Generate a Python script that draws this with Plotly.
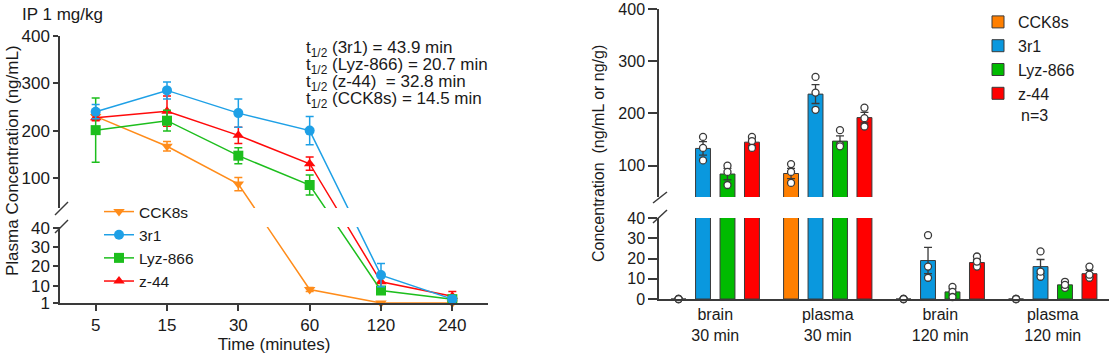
import plotly.graph_objects as go

W, H = 1112, 355
FONT = "Liberation Sans, Arial, sans-serif"
INK = "#1a1a1a"
AX = "#3a3a3a"

# ---------------- Left panel: plasma PK after IP 1 mg/kg ----------------
times = ["5", "15", "30", "60", "120", "240"]
cck8s_pk = [230, 167, 87, 8, 1, 1]
cck8s_pk_sem = [8, 10, 14, 1, 0, 0]
r1_pk = [240, 285, 237, 200, 15.5, 3]
r1_pk_sem = [15, 18, 30, 30, 6, 1]
lyz_pk = [201, 221, 147, 85, 7.5, 3]
lyz_pk_sem = [68, 22, 17, 21, 1.5, 0.5]
z44_pk = [227, 241, 190, 130, 12, 4.5]
z44_pk_sem = [6, 32, 17, 14, 3, 2.5]
left_yticks = [1, 10, 20, 30, 40, 100, 200, 300, 400]
half_life_labels = ["(3r1) = 43.9 min", "(Lyz-866) = 20.7 min",
                    "(z-44)  = 32.8 min", "(CCK8s) = 14.5 min"]

# ---------------- Right panel: brain / plasma concentrations ----------------
groups = ["brain<br>30 min", "plasma<br>30 min", "brain<br>120 min", "plasma<br>120 min"]
cck8s_mean = [0, 85, 0, 0]
cck8s_sem = [0, 10, 0, 0]
cck8s_reps = [[0, 0, 0], [103, 88, 67], [0, 0, 0], [0, 0, 0]]
r1_mean = [133, 237, 19, 16]
r1_sem = [13, 18, 6.5, 3.5]
r1_reps = [[155, 134, 110], [270, 240, 207], [31.5, 16, 10.5], [23.5, 11, 13.5]]
lyz_mean = [84, 147, 3.5, 7]
lyz_sem = [11, 10, 1.5, 1]
lyz_reps = [[100, 88, 63], [168, 140, 137], [6, 3.5, 1], [5.5, 8.5, 7]]
z44_mean = [145, 192, 18, 12.5]
z44_sem = [6, 10, 1.5, 1.7]
z44_reps = [[155, 147, 134], [211, 191, 175], [21, 16, 18.5], [16, 10.5, 12]]
right_upper_ticks = [100, 200, 300, 400]
right_lower_ticks = [0, 10, 20, 30, 40]

LINE_COL = {"CCK8s": "#FF8C1A", "3r1": "#1EA0E6", "Lyz-866": "#1DBE1D", "z-44": "#FF0A0A"}
BAR_COL = {"CCK8s": "#FF7F00", "3r1": "#0A98DE", "Lyz-866": "#00BB00", "z-44": "#FF0000"}


def brk(v):
    """Broken-axis scale for the left panel: 1..40 below the break, 47..400 above."""
    if v <= 40:
        return (v - 1) * 75.0 / 39.0
    return 100.0 + (v - 47) * 167.0 / 353.0


def px(x):
    return x / W


def py(y):
    return 1 - y / H


fig = go.Figure()

left_series = [
    ("CCK8s", cck8s_pk, cck8s_pk_sem, "triangle-down", 1),
    ("z-44", z44_pk, z44_pk_sem, "triangle-up", 4),
    ("Lyz-866", lyz_pk, lyz_pk_sem, "square", 3),
    ("3r1", r1_pk, r1_pk_sem, "circle", 2),
]
for name, mean, sem, sym, rank in left_series:
    yv = [brk(m) for m in mean]
    up = [brk(m + e) - brk(m) for m, e in zip(mean, sem)]
    dn = [brk(m) - brk(m - e) for m, e in zip(mean, sem)]
    c = LINE_COL[name]
    fig.add_trace(go.Scatter(
        x=times, y=yv, name=name, mode="lines+markers",
        line=dict(color=c, width=1.5),
        marker=dict(symbol=sym, size=10, color=c),
        error_y=dict(type="data", symmetric=False, array=up, arrayminus=dn,
                     color=c, thickness=1.5, width=4),
        xaxis="x", yaxis="y", cliponaxis=False, offsetgroup="pk",
        legend="legend", legendrank=rank,
    ))

right_series = [
    ("CCK8s", cck8s_mean, cck8s_sem, cck8s_reps),
    ("3r1", r1_mean, r1_sem, r1_reps),
    ("Lyz-866", lyz_mean, lyz_sem, lyz_reps),
    ("z-44", z44_mean, z44_sem, z44_reps),
]
for ax, show in (("y3", False), ("y4", True)):
    for name, mean, sem, reps in right_series:
        fig.add_trace(go.Bar(
            x=groups, y=mean, name=name, offsetgroup=name,
            marker=dict(color=BAR_COL[name], line=dict(color=AX, width=1)),
            error_y=dict(type="data", array=sem, color=AX, thickness=1.3, width=4),
            xaxis="x2", yaxis=ax, showlegend=show, legend="legend2",
        ))
for ax in ("y3", "y4"):
    for name, mean, sem, reps in right_series:
        xs = [g for g, r in zip(groups, reps) for _ in r]
        vals = [v for r in reps for v in r]
        if ax == "y3":
            ys = [v if v >= 40 else None for v in vals]
        else:
            ys = [v if v < 40 else None for v in vals]
        fig.add_trace(go.Scatter(
            x=xs, y=ys, mode="markers", offsetgroup=name, showlegend=False,
            marker=dict(symbol="circle", size=7, color="white",
                        line=dict(color=AX, width=1.3)),
            xaxis="x2", yaxis=ax, cliponaxis=False, legend="legend2",
        ))

axis_common = dict(showline=True, linecolor=AX, linewidth=1.5, showgrid=False,
                   zeroline=False, tickcolor=AX, tickwidth=1.5, automargin=False)

shapes = [
    # break gap on left panel
    dict(type="rect", layer="above", xref="paper", yref="y", x0=px(57), x1=px(492),
         y0=76, y1=95, fillcolor="white", line=dict(width=0)),
]
for (x0, y0, x1, y1) in [(55, 215, 68, 202), (55, 233, 68, 220),
                         (653, 203, 667, 192), (653, 223, 667, 210)]:
    shapes.append(dict(type="line", layer="above", xref="paper", yref="paper",
                       x0=px(x0), y0=py(y0), x1=px(x1), y1=py(y1),
                       line=dict(color=AX, width=1.5)))

annotations = [
    dict(text="IP 1 mg/kg", x=px(20), y=py(15), xref="paper", yref="paper",
         xanchor="left", yanchor="middle", showarrow=False, font=dict(size=17)),
    dict(text="Plasma Concentration (ng/mL)", x=px(12), y=py(161), xref="paper",
         yref="paper", xanchor="center", yanchor="middle", textangle=-90,
         showarrow=False, font=dict(size=17)),
    dict(text="Concentration\u00a0\u00a0(ng/mL or ng/g)", x=px(598), y=py(154),
         xref="paper", yref="paper", xanchor="center", yanchor="middle",
         textangle=-90, showarrow=False, font=dict(size=16)),
    dict(text="n=3", x=px(1019), y=py(115), xref="paper", yref="paper",
         xanchor="left", yanchor="middle", showarrow=False, font=dict(size=16)),
]
for i, lab in enumerate(half_life_labels):
    annotations.append(dict(text="t<sub>1/2</sub> " + lab, x=px(304), y=py(49 + 17 * i),
                            xref="paper", yref="paper", xanchor="left", yanchor="middle",
                            showarrow=False, font=dict(size=17)))

fig.update_layout(
    width=W, height=H, margin=dict(l=0, r=0, t=0, b=0, autoexpand=False),
    paper_bgcolor="white", plot_bgcolor="white",
    font=dict(family=FONT, color=INK, size=16),
    barmode="group", bargap=0.13, bargroupgap=0.39,
    scattermode="group", scattergap=0.13,
    xaxis=dict(domain=[px(60), px(488)], anchor="y", type="category",
               range=[-0.5, 5.5], ticks="outside", ticklen=6,
               tickfont=dict(size=17),
               title=dict(text="Time (minutes)", font=dict(size=17), standoff=0),
               **axis_common),
    yaxis=dict(domain=[py(303), py(36)], anchor="x", range=[0, 267],
               tickvals=[brk(v) for v in left_yticks],
               ticktext=[str(v) for v in left_yticks],
               ticks="outside", ticklen=5, tickfont=dict(size=17), **axis_common),
    xaxis2=dict(domain=[px(659), px(1109)], anchor="y4", type="category",
                range=[-0.5, 3.5], ticks="", tickfont=dict(size=16), **axis_common),
    yaxis3=dict(domain=[py(197), py(9)], anchor="x2", range=[40, 400],
                tickvals=right_upper_ticks, ticks="outside", ticklen=9,
                tickfont=dict(size=16), **axis_common),
    yaxis4=dict(domain=[py(299), py(218)], anchor="x2", range=[0, 40],
                tickvals=right_lower_ticks, ticks="outside", ticklen=9,
                tickfont=dict(size=16), **axis_common),
    legend=dict(x=px(99), y=py(195), xanchor="left", yanchor="top",
                bgcolor="rgba(0,0,0,0)", font=dict(size=15.5), tracegroupgap=0,
                traceorder="normal"),
    legend2=dict(x=px(978), y=py(5), xanchor="left", yanchor="top",
                 bgcolor="rgba(0,0,0,0)", font=dict(size=16), tracegroupgap=0),
    shapes=shapes, annotations=annotations, showlegend=True,
)

fig.write_html("out.html", config={"displayModeBar": False},
               post_script="document.body.style.margin='0';")
